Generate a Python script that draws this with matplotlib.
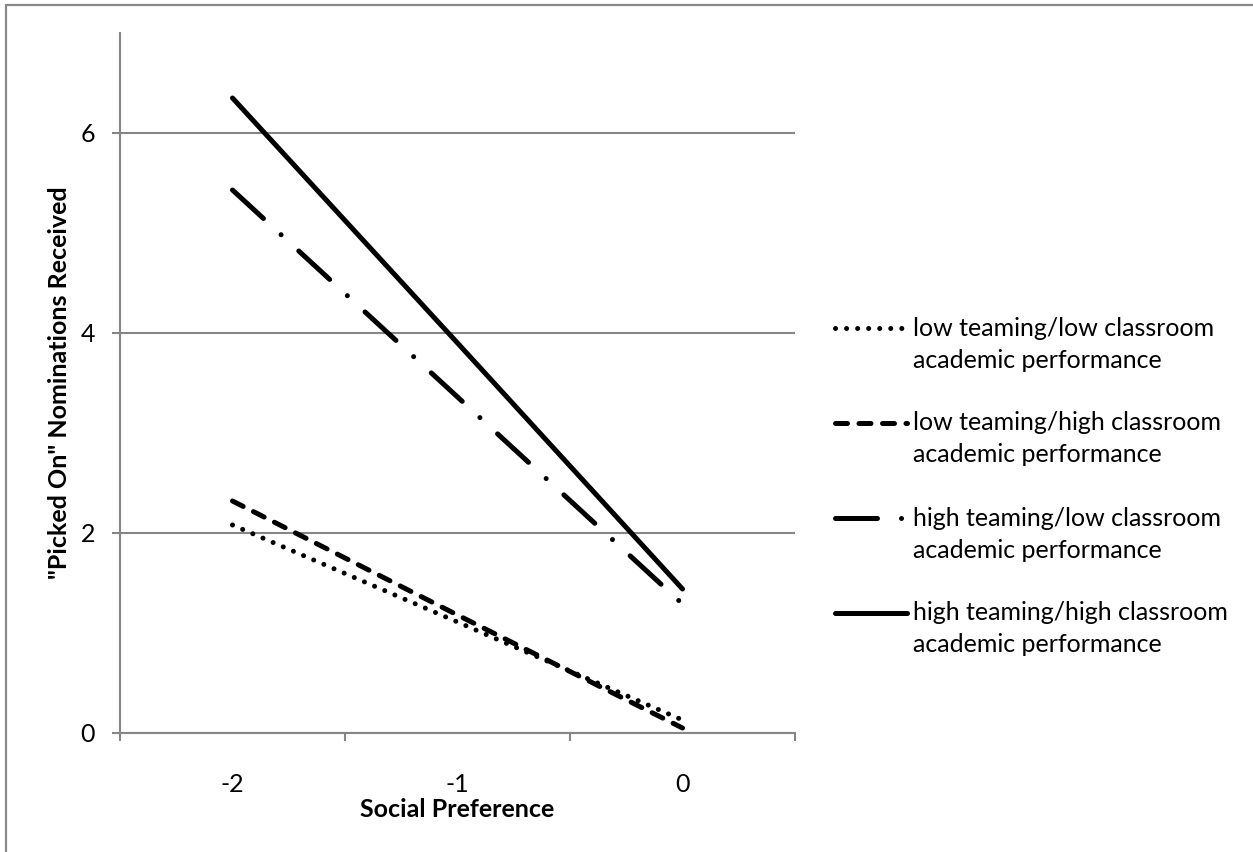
import matplotlib
matplotlib.use("Agg")
import matplotlib.pyplot as plt
from matplotlib.lines import Line2D
from matplotlib.patches import Rectangle

plt.rcParams["font.family"] = ["Lato", "DejaVu Sans"]

# categories on the x axis (Excel-style category axis)
categories = ["-2", "-1", "0"]

low_team_low_perf = [2.08, 1.11, 0.13]
low_team_high_perf = [2.32, 1.18, 0.05]
high_team_low_perf = [5.43, 3.36, 1.29]
high_team_high_perf = [6.35, 3.90, 1.44]

series_labels = [
    "low teaming/low classroom\nacademic performance",
    "low teaming/high classroom\nacademic performance",
    "high teaming/low classroom\nacademic performance",
    "high teaming/high classroom\nacademic performance",
]

y_ticks = [0, 2, 4, 6]

GRAY = "#868686"
W, H = 1253, 852
LW = 3.6

# dash patterns (in units of line width), round caps
STYLES = [
    dict(dashes=(0.01, 2.2)),             # dotted
    dict(dashes=(2.4, 2.3)),              # dashed
    dict(dashes=(8.4, 4.8, 0.01, 4.8)),   # long dash - dot
    dict(),                               # solid
]

fig = plt.figure(figsize=(W / 100, H / 100), dpi=100)

# outer chart frame
fig.add_artist(Rectangle((6 / W, -0.02), 1.0, (H - 5) / H + 0.02,
                         transform=fig.transFigure, fill=False,
                         edgecolor="#898989", linewidth=1.6, clip_on=False))

ax = fig.add_axes([120 / W, (H - 733) / H, 675 / W, 700 / H])

x = list(range(len(categories)))
all_series = [low_team_low_perf, low_team_high_perf, high_team_low_perf, high_team_high_perf]

for vals, st in zip(all_series, STYLES):
    line, = ax.plot(x, vals, color="black", linewidth=LW,
                    solid_capstyle="round", dash_capstyle="round")
    if "dashes" in st:
        line.set_dashes(st["dashes"])

ax.set_xlim(-0.5, len(categories) - 0.5)
ax.set_ylim(0, 7)

ax.set_xticks(x)
ax.set_xticklabels(categories)
ax.set_xticks([i - 0.5 for i in range(len(categories) + 1)], minor=True)
ax.tick_params(axis="x", which="major", length=0, pad=29, labelsize=18)
ax.tick_params(axis="x", which="minor", length=6, width=1.5, color=GRAY, direction="out")

ax.set_yticks(y_ticks)
ax.tick_params(axis="y", length=6, width=1.5, color=GRAY, direction="out", pad=12, labelsize=18)

ax.yaxis.grid(True, color=GRAY, linewidth=1.5)
ax.set_axisbelow(True)
for side in ["top", "right"]:
    ax.spines[side].set_visible(False)
for side in ["left", "bottom"]:
    ax.spines[side].set_color(GRAY)
    ax.spines[side].set_linewidth(1.5)

ax.set_xlabel("Social Preference", fontsize=18, fontweight="bold", labelpad=1)
ax.set_ylabel('"Picked On" Nominations Received', fontsize=18, fontweight="bold", labelpad=7)

# legend, drawn by hand so the sample sits on the first text line
first_line_y = [328, 423, 518, 613]
for lab, st, yy in zip(series_labels, STYLES, first_line_y):
    h = Line2D([835 / W, 907 / W], [1 - yy / H, 1 - yy / H], transform=fig.transFigure,
               color="black", linewidth=LW, solid_capstyle="round", dash_capstyle="round")
    if "dashes" in st:
        h.set_dashes(st["dashes"])
    fig.add_artist(h)
    first, second = lab.split("\n")
    fig.text(913 / W, 1 - yy / H, first, fontsize=18, va="center", ha="left")
    fig.text(913 / W, 1 - (yy + 32) / H, second, fontsize=18, va="center", ha="left")

fig.savefig("out.png", dpi=100)
